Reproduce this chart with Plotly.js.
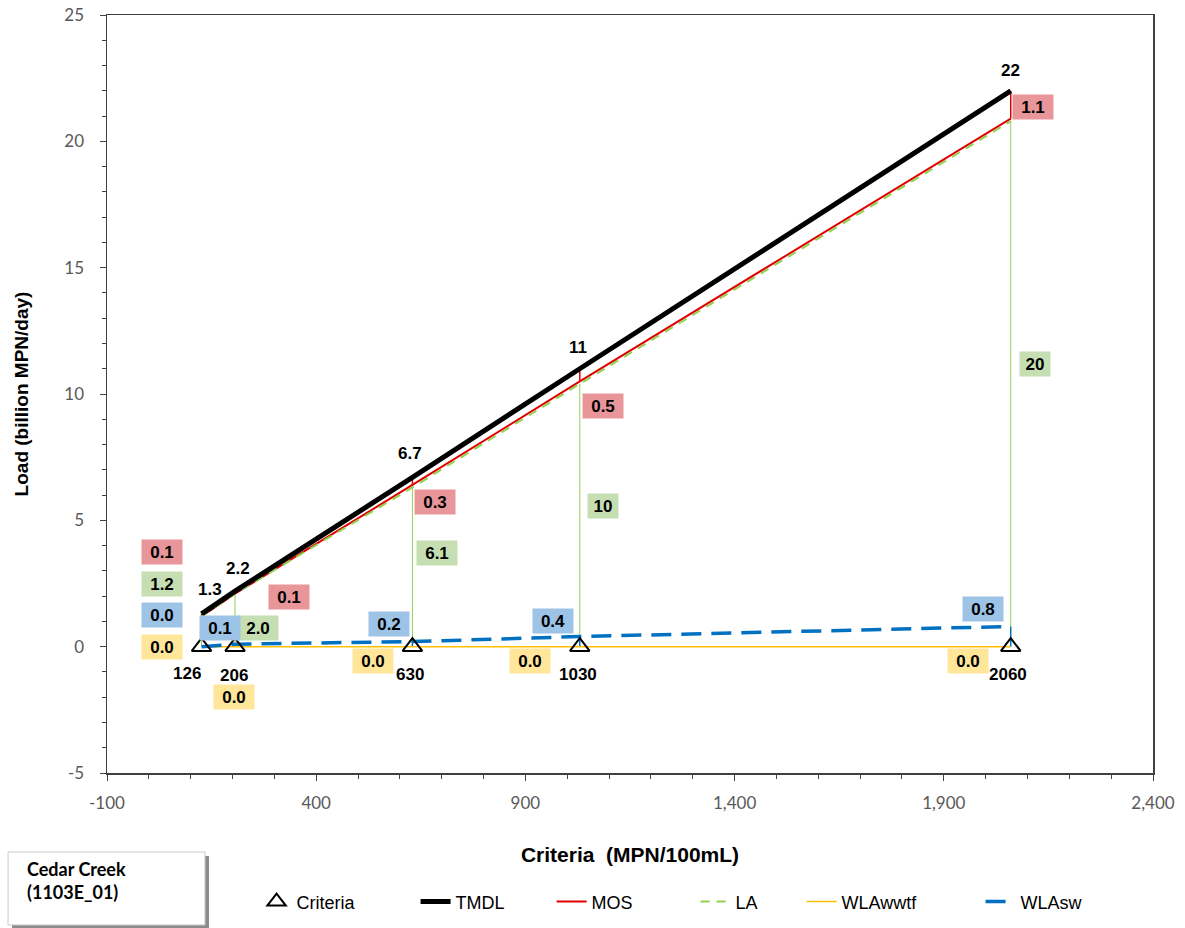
<!DOCTYPE html>
<html>
<head>
<meta charset="utf-8">
<script src="https://cdn.plot.ly/plotly-3.0.1.min.js"></script>
<style>
  html, body { margin: 0; padding: 0; background: #ffffff; }
  #chart { width: 1185px; height: 928px; }
</style>
</head>
<body>
<div id="chart"></div>
<script>
// Criteria values (MPN/100mL) and the load allocation at each one (billion MPN/day)
const criteria = [126, 206, 630, 1030, 2060];
const tmdl     = [1.3, 2.2, 6.7, 11, 22];
const mos      = [0.1, 0.1, 0.3, 0.5, 1.1];
const la       = [1.2, 2.0, 6.1, 10, 20];
const wlaWwtf  = [0.0, 0.0, 0.0, 0.0, 0.0];
const wlaSw    = [0.0, 0.1, 0.2, 0.4, 0.8];

// Axis tick labels
const xTickVals = [-100, 400, 900, 1400, 1900, 2400];
const xTickText = ['-100', '400', '900', '1,400', '1,900', '2,400'];
const yTickVals = [-5, 0, 5, 10, 15, 20, 25];
const yTickText = ['-5', '0', '5', '10', '15', '20', '25'];

const watershed = 'Cedar Creek<br>(1103E_01)';

// Stacked levels used for the lines and bars
const wwtfTop = wlaWwtf.slice();
const swTop   = wlaSw.map((v, i) => v + wwtfTop[i]);
const laTop   = la.map((v, i) => v + swTop[i]);
const mosBase = tmdl.map((v, i) => v - mos[i]);

const fmt = v => (Math.abs(v) >= 10 ? v.toFixed(0) : v.toFixed(1));

// Vertical segments between two levels at every criterion
function segments(lo, hi) {
  const xs = [], ys = [];
  criteria.forEach((c, i) => { xs.push(c, c, null); ys.push(lo[i], hi[i], null); });
  return { x: xs, y: ys };
}

const segRed   = segments(mosBase, tmdl);
const segGreen = segments(swTop, laTop);
const segBlue  = segments(wwtfTop, swTop);

const traces = [
  { x: segGreen.x, y: segGreen.y, mode: 'lines', line: { color: '#92D050', width: 1 }, showlegend: false, hoverinfo: 'skip' },
  { x: segBlue.x, y: segBlue.y, mode: 'lines', line: { color: '#0070C0', width: 1.5 }, showlegend: false, hoverinfo: 'skip' },
  { x: segRed.x, y: segRed.y, mode: 'lines', line: { color: '#E00000', width: 1.5 }, showlegend: false, hoverinfo: 'skip' },
  { name: 'WLAwwtf', x: criteria, y: wwtfTop, mode: 'lines', line: { color: '#FFC000', width: 1.5 },
    legendrank: 5, legendwidth: 134 },
  { name: 'WLAsw', x: criteria, y: swTop, mode: 'lines', line: { color: '#0070C0', width: 3.5, dash: '20px,10px' },
    legendrank: 6, legendwidth: 80 },
  { name: 'MOS', x: criteria, y: mosBase, mode: 'lines', line: { color: '#E00000', width: 2 },
    legendrank: 3, legendwidth: 99 },
  { name: 'LA', x: criteria, y: laTop, mode: 'lines', line: { color: '#92D050', width: 2, dash: '9px,7px' },
    legendrank: 4, legendwidth: 61 },
  { name: 'TMDL', x: criteria, y: tmdl, mode: 'lines', line: { color: '#000000', width: 5 },
    legendrank: 2, legendwidth: 91 },
  { name: 'Criteria', x: criteria, y: criteria.map(() => 0), mode: 'markers',
    marker: { symbol: 'triangle-up-open', size: 17, color: '#000000', line: { width: 2, color: '#000000' } },
    legendrank: 1, legendwidth: 114 }
];

// Label placement (pixel offsets from each anchor point)
const offTmdl = [[8, 24], [3, 23], [-2, 24], [-2, 21], [0, 20]];
const offMos  = [[-40, 62], [54, -6], [23, -25], [23, -37], [22, -16]];
const offLa   = [[-40, 32], [23, -34], [25, -66], [23, -122], [24, -243]];
const offSw   = [[-40, 32], [-15, 16], [-23, 18], [-27, 16], [-28, 17]];
const offWw   = [[-40, 0], [-1, -50], [-39, -14], [-50, -14], [-43, -14]];
const offCrit = [[-15, -27], [-1, -29], [-2, -28], [-2, -28], [-3, -28]];

const labelFont = { family: 'Liberation Sans, Arial, sans-serif', size: 17, color: '#000000' };
const annotations = [];

function addLabels(values, anchors, offsets, bg) {
  values.forEach((v, i) => {
    const txt = fmt(v);
    const a = {
      x: criteria[i], y: anchors[i], xref: 'x', yref: 'y',
      text: '<b>' + txt + '</b>', showarrow: false,
      xshift: offsets[i][0], yshift: offsets[i][1],
      font: labelFont
    };
    if (bg) { a.bgcolor = bg; a.borderpad = 0; a.width = txt.length * 10 + 10; a.height = 24; }
    annotations.push(a);
  });
}

addLabels(tmdl, tmdl, offTmdl, null);
addLabels(mos, tmdl, offMos, '#E9969B');
addLabels(la, laTop, offLa, '#C5DFB2');
addLabels(wlaSw, swTop, offSw, '#9DC3E6');
addLabels(wlaWwtf, wwtfTop, offWw, '#FFE699');

criteria.forEach((c, i) => {
  annotations.push({
    x: c, y: 0, xref: 'x', yref: 'y', text: '<b>' + c + '</b>', showarrow: false,
    xshift: offCrit[i][0], yshift: offCrit[i][1], font: labelFont
  });
});

// Watershed name box below the plot
annotations.push({
  xref: 'paper', yref: 'paper', x: -0.0785, y: -0.1095, xanchor: 'left', yanchor: 'top', align: 'left',
  text: '<b>' + watershed + '</b>', showarrow: false,
  font: { family: 'Lato, Liberation Sans, sans-serif', size: 18, color: '#000000' }
});

const shapes = [
  { type: 'rect', xref: 'paper', yref: 'paper', x0: -0.0908, x1: 0.0975, y0: -0.2058, y1: -0.1095,
    fillcolor: '#8c8c8c', line: { width: 0 }, layer: 'below' },
  { type: 'rect', xref: 'paper', yref: 'paper', x0: -0.0946, x1: 0.0937, y0: -0.2005, y1: -0.1042,
    fillcolor: '#ffffff', line: { color: '#c8c8c8', width: 1 }, layer: 'below' }
];

const tickFont = { family: 'Lato, Liberation Sans, sans-serif', size: 17, color: '#595959' };

const layout = {
  width: 1185, height: 928,
  margin: { l: 107, r: 32, t: 15, b: 155, pad: 0, autoexpand: false },
  paper_bgcolor: '#ffffff', plot_bgcolor: '#ffffff',
  showlegend: true,
  legend: {
    orientation: 'h', x: 0.143, y: -0.170, xanchor: 'left', yanchor: 'middle',
    font: { family: 'Liberation Sans, Arial, sans-serif', size: 18, color: '#000000' },
    traceorder: 'normal', bgcolor: 'rgba(0,0,0,0)'
  },
  xaxis: {
    range: [-100, 2400], tickmode: 'array', tickvals: xTickVals, ticktext: xTickText, automargin: false,
    showgrid: false, zeroline: false, showline: true, linecolor: '#404040', linewidth: 1.5, mirror: true,
    ticks: 'outside', ticklen: 6, tickcolor: '#404040', ticklabelstandoff: 8,
    minor: { dtick: 100, tick0: -100, ticks: 'outside', ticklen: 4, tickcolor: '#404040', showgrid: false },
    tickfont: tickFont,
    title: { text: '<b>Criteria  (MPN/100mL)</b>', standoff: 35,
      font: { family: 'Liberation Sans, Arial, sans-serif', size: 21, color: '#000000' } }
  },
  yaxis: {
    range: [-5, 25], tickmode: 'array', tickvals: yTickVals, ticktext: yTickText, automargin: false,
    showgrid: false, zeroline: false, showline: true, linecolor: '#404040', linewidth: 1.5, mirror: true,
    ticks: 'outside', ticklen: 6, tickcolor: '#404040', ticklabelstandoff: 12,
    minor: { dtick: 1, tick0: 0, ticks: 'outside', ticklen: 4, tickcolor: '#404040', showgrid: false },
    tickfont: tickFont,
    title: { text: '<b>Load (billion MPN/day)</b>', standoff: 30,
      font: { family: 'Liberation Sans, Arial, sans-serif', size: 19, color: '#000000' } }
  },
  annotations: annotations,
  shapes: shapes
};

Plotly.newPlot('chart', traces, layout, { displayModeBar: false, staticPlot: true });
</script>
</body>
</html>
